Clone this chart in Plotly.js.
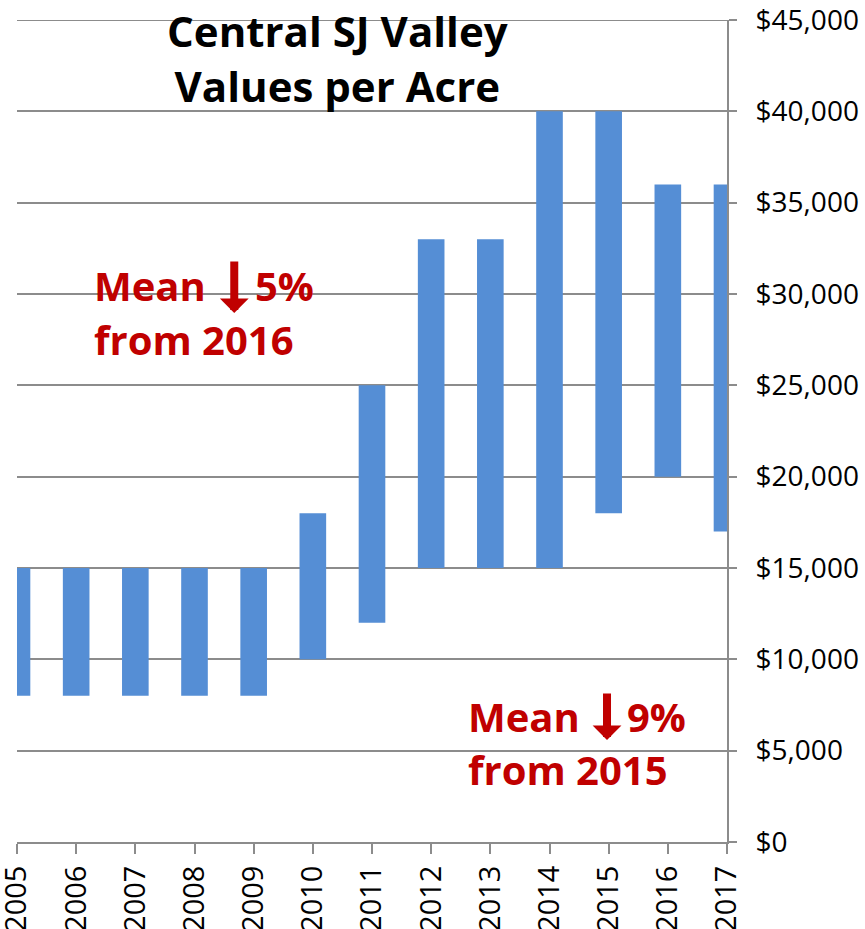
<!DOCTYPE html>
<html>
<head>
<meta charset="utf-8">
<script src="https://cdn.plot.ly/plotly-3.0.1.min.js"></script>
<style>
html, body { margin: 0; padding: 0; background: #ffffff; }
#chart { width: 865px; height: 929px; }
</style>
</head>
<body>
<div id="chart"></div>
<script>
// Data
const years = [2005, 2006, 2007, 2008, 2009, 2010, 2011, 2012, 2013, 2014, 2015, 2016, 2017];
const lowValues  = [8000, 8000, 8000, 8000, 8000, 10000, 12000, 15000, 15000, 15000, 18000, 20000, 17000];
const highValues = [15000, 15000, 15000, 15000, 15000, 18000, 25000, 33000, 33000, 40000, 40000, 36000, 36000];
const yTickValues = [0, 5000, 10000, 15000, 20000, 25000, 30000, 35000, 40000, 45000];
const titleText = 'Central SJ Valley<br>Values per Acre';

const rangeSpan = highValues.map((h, i) => h - lowValues[i]);

const FONT = '"Open Sans", "DejaVu Sans", sans-serif';
const RED = '#c00000';
const GRID = '#8c8c8c';

const trace = {
  type: 'bar',
  x: years,
  base: lowValues,
  y: rangeSpan,
  width: 0.45,
  marker: { color: '#558ed5', line: { width: 0 } },
  hoverinfo: 'skip',
  showlegend: false
};

function txt(text, x, y) {
  return {
    xref: 'paper', yref: 'paper', x: x, y: y,
    xanchor: 'left', yanchor: 'middle',
    text: text, showarrow: false,
    font: { family: FONT, size: 40, color: RED, weight: 'bold' }
  };
}
function arrow(x, y, len) {
  return {
    xref: 'paper', yref: 'paper', x: x, y: y,
    ax: 0, ay: -len, text: '',
    showarrow: true, arrowhead: 1, arrowsize: 0.6, arrowwidth: 8,
    arrowcolor: RED, standoff: 0
  };
}

const layout = {
  width: 865, height: 929,
  margin: { l: 17, r: 138, t: 20, b: 87 },
  paper_bgcolor: '#ffffff', plot_bgcolor: '#ffffff',
  font: { family: FONT, color: '#000000', size: 28 },
  title: {
    text: titleText,
    xref: 'container', x: 0.39, xanchor: 'center',
    yref: 'container', y: 0.949, yanchor: 'top',
    font: { family: FONT, size: 42, color: '#000000', weight: 'bold' }
  },
  xaxis: {
    type: 'linear',
    range: [2005, 2017],
    tickmode: 'array', tickvals: years, ticktext: years.map(String),
    tickangle: -90,
    ticks: 'outside', ticklen: 10, tickcolor: GRID, tickwidth: 2,
    ticklabeloverflow: 'allow',
    showline: true, linecolor: GRID, linewidth: 2,
    showgrid: false, zeroline: false,
    tickfont: { family: FONT, size: 29, color: '#000000' }
  },
  yaxis: {
    side: 'right',
    range: [0, 45000],
    tickmode: 'array', tickvals: yTickValues,
    ticktext: yTickValues.map(v => '$' + v.toLocaleString('en-US')),
    ticks: 'outside', ticklen: 8, tickcolor: GRID, tickwidth: 2,
    ticklabelstandoff: 13,
    ticklabeloverflow: 'allow',
    showline: true, linecolor: GRID, linewidth: 2,
    showgrid: true, gridcolor: GRID, gridwidth: 2,
    zeroline: false,
    tickfont: { family: FONT, size: 28, color: '#000000' }
  },
  shapes: [
    { type: 'line', xref: 'paper', x0: 0, x1: 1, yref: 'y', y0: 45000, y1: 45000,
      line: { color: GRID, width: 2 }, layer: 'below' }
  ],
  annotations: [
    txt('Mean', 0.105, 0.677),
    txt('5%', 0.333, 0.677),
    txt('from 2016', 0.105, 0.611),
    arrow(0.306, (842 - 313) / 822, 53),
    txt('Mean', 0.633, 0.153),
    txt('9%', 0.856, 0.153),
    txt('from 2015', 0.633, 0.088),
    arrow(0.831, (842 - 740) / 822, 48)
  ],
  bargap: 0.5
};

Plotly.newPlot('chart', [trace], layout, { displayModeBar: false, staticPlot: true });
</script>
</body>
</html>
